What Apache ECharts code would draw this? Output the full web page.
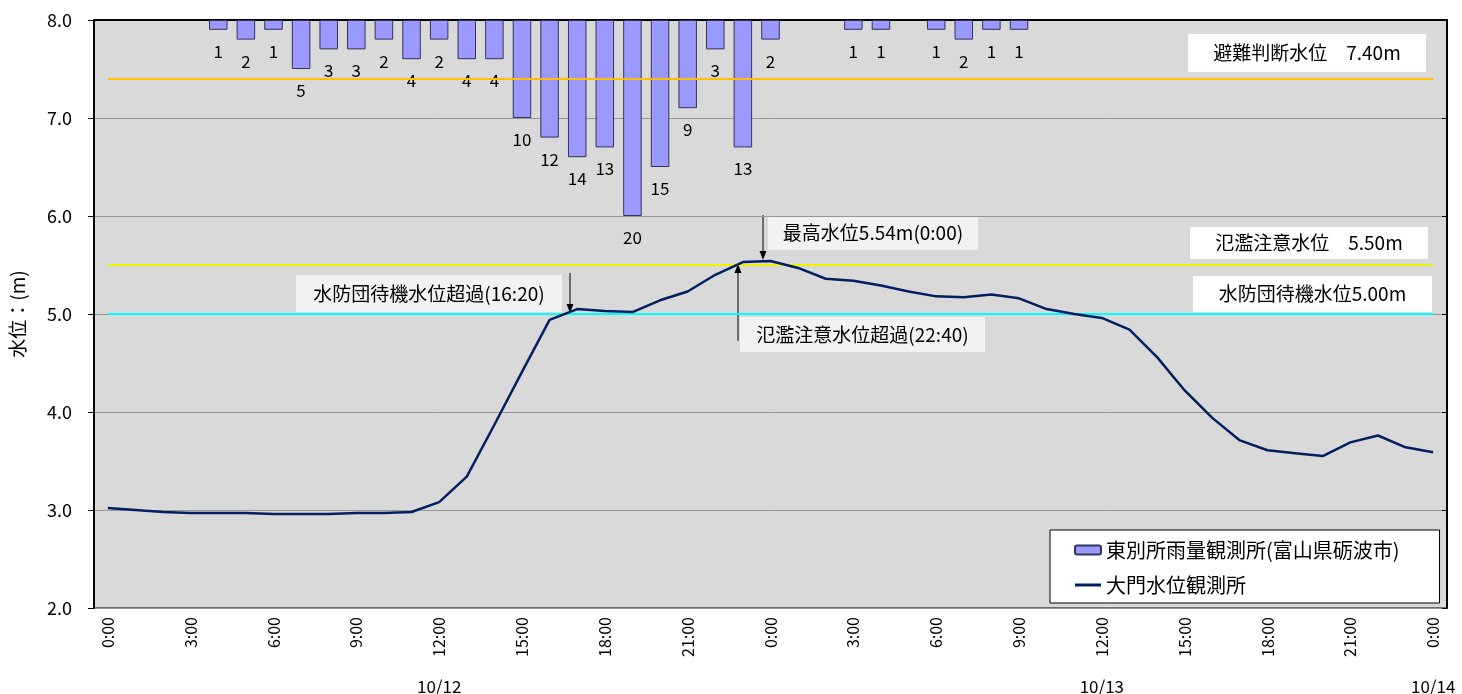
<!DOCTYPE html>
<html>
<head>
<meta charset="utf-8">
<script src="https://cdn.jsdelivr.net/npm/echarts@6/dist/echarts.min.js"></script>
<style>
  html, body { margin: 0; padding: 0; background: #fff; }
  #chart { width: 1462px; height: 694px; }
</style>
</head>
<body>
<div id="chart"></div>
<script>
// hourly categories 10/12 0:00 -> 10/14 0:00
let times = ['0:00','1:00','2:00','3:00','4:00','5:00','6:00','7:00','8:00','9:00','10:00','11:00',
    '12:00','13:00','14:00','15:00','16:00','17:00','18:00','19:00','20:00','21:00','22:00','23:00',
    '0:00','1:00','2:00','3:00','4:00','5:00','6:00','7:00','8:00','9:00','10:00','11:00',
    '12:00','13:00','14:00','15:00','16:00','17:00','18:00','19:00','20:00','21:00','22:00','23:00',
    '0:00'];

// date labels under the time axis (index -> text)
let dateLabels = { 12: '10/12', 36: '10/13', 48: '10/14' };

// 東別所 hourly rainfall (mm)
let rain = [null, null, null, null, 1, 2, 1, 5, 3, 3, 2, 4,
    2, 4, 4, 10, 12, 14, 13, 20, 15, 9, 3, 13,
    2, null, null, 1, 1, null, 1, 2, 1, 1, null, null,
    null, null, null, null, null, null, null, null, null, null, null, null,
    null];

// 大門 water level (m)
let level = [3.02, 3.00, 2.98, 2.97, 2.97, 2.97, 2.96, 2.96, 2.96, 2.97, 2.97, 2.98,
    3.08, 3.34, 3.87, 4.41, 4.94, 5.05, 5.03, 5.02, 5.14, 5.23, 5.40, 5.53,
    5.54, 5.47, 5.36, 5.34, 5.29, 5.23, 5.18, 5.17, 5.20, 5.16, 5.05, 5.00,
    4.96, 4.84, 4.56, 4.22, 3.94, 3.71, 3.61, 3.58, 3.55, 3.69, 3.76, 3.64,
    3.59];

// threshold levels
let thresholds = [
    { name: '避難判断水位', value: 7.40, color: '#FFC000' },
    { name: '氾濫注意水位', value: 5.50, color: '#F2F200' },
    { name: '水防団待機水位', value: 5.00, color: '#00FFFF' }
];

let font = '"Noto Sans CJK JP", "Noto Sans", sans-serif';
let chart = echarts.init(document.getElementById('chart'));

// small helper: text box for the annotations
function textBox(x, y, w, h, text, bg) {
    return {
        type: 'group',
        children: [{
            type: 'rect',
            shape: { x: x, y: y, width: w, height: h },
            style: { fill: bg }
        }, {
            type: 'text',
            x: x + w / 2,
            y: y + h / 2,
            style: {
                text: text,
                fill: '#000',
                font: '19px ' + font,
                align: 'center',
                verticalAlign: 'middle'
            }
        }]
    };
}

// vertical arrow, tip at y2
function arrow(x, y1, y2) {
    let dir = y2 > y1 ? 1 : -1;
    return {
        type: 'group',
        children: [{
            type: 'polyline',
            shape: { points: [[x, y1], [x, y2 - dir * 6]] },
            style: { stroke: '#000', lineWidth: 1 }
        }, {
            type: 'polygon',
            shape: { points: [[x, y2], [x - 3.5, y2 - dir * 9], [x + 3.5, y2 - dir * 9]] },
            style: { fill: '#000' }
        }]
    };
}

let option = {
    animation: false,
    textStyle: { fontFamily: font },
    grid: {
        left: 94,
        right: 15,
        top: 20,
        bottom: 86,
        outerBoundsMode: 'none',
        show: true,
        backgroundColor: '#D9D9D9',
        borderColor: '#000',
        borderWidth: 1
    },
    legend: {
        orient: 'vertical',
        left: 1050,
        top: 530,
        padding: [10, 40, 8, 24],
        itemGap: 15,
        itemWidth: 26,
        itemHeight: 9,
        backgroundColor: '#fff',
        borderColor: '#000',
        borderWidth: 1,
        textStyle: { fontSize: 20, color: '#000', fontFamily: font },
        data: [
            { name: '東別所雨量観測所(富山県砺波市)' },
            { name: '大門水位観測所', icon: 'path://M0,0H26V3H0Z' }
        ]
    },
    xAxis: [{
        type: 'category',
        data: times,
        boundaryGap: true,
        axisLine: { lineStyle: { color: '#000', width: 2 } },
        axisTick: { show: false },
        axisLabel: {
            interval: 2,
            rotate: 90,
            margin: 9,
            fontSize: 16,
            color: '#000'
        }
    }, {
        type: 'category',
        data: times,
        position: 'bottom',
        offset: 62,
        axisLine: { show: false },
        axisTick: { show: false },
        axisLabel: {
            interval: 0,
            fontSize: 17,
            color: '#000',
            formatter: (v, i) => dateLabels[i] || ''
        }
    }],
    yAxis: [{
        type: 'value',
        min: 2,
        max: 8,
        interval: 1,
        name: '水位：(m)',
        nameLocation: 'middle',
        nameGap: 67,
        nameRotate: 90,
        nameTextStyle: { fontSize: 19, color: '#000' },
        axisLine: { show: true, lineStyle: { color: '#000', width: 2 } },
        axisTick: { show: true, length: 6, lineStyle: { color: '#000' } },
        axisLabel: {
            margin: 22,
            fontSize: 18,
            color: '#000',
            formatter: v => v.toFixed(1)
        },
        splitLine: { lineStyle: { color: '#969696', width: 1 } }
    }, {
        type: 'value',
        min: 0,
        max: 60,
        interval: 10,
        inverse: true,
        position: 'right',
        axisLine: { show: true, lineStyle: { color: '#000', width: 2 } },
        axisTick: { show: true, inside: true, length: 5, lineStyle: { color: '#000' } },
        axisLabel: { show: false },
        splitLine: { show: false }
    }],
    series: [{
        name: '東別所雨量観測所(富山県砺波市)',
        type: 'bar',
        xAxisIndex: 0,
        yAxisIndex: 1,
        data: rain,
        barCategoryGap: '33%',
        itemStyle: {
            color: '#9999FF',
            borderColor: '#333355',
            borderWidth: 1
        },
        label: {
            show: true,
            position: 'bottom',
            distance: 13,
            fontSize: 17,
            color: '#000'
        }
    }, {
        name: '大門水位観測所',
        type: 'line',
        xAxisIndex: 0,
        yAxisIndex: 0,
        data: level,
        symbol: 'none',
        lineStyle: { color: '#002060', width: 2.5 },
        itemStyle: { color: '#002060' },
        z: 5,
        markLine: {
            silent: true,
            symbol: 'none',
            label: { show: false },
            data: thresholds.map(t => [
                { coord: [0, t.value], lineStyle: { color: t.color, width: 2, type: 'solid' } },
                { coord: [times.length - 1, t.value] }
            ])
        }
    }],
    graphic: [
        textBox(1188, 34, 238, 38, '避難判断水位　7.40m', '#FFFFFF'),
        textBox(1190, 227, 238, 32, '氾濫注意水位　5.50m', '#FFFFFF'),
        textBox(1193, 276, 239, 36, '水防団待機水位5.00m', '#FFFFFF'),
        textBox(296, 275, 266, 37, '水防団待機水位超過(16:20)', '#F2F2F2'),
        textBox(768, 216, 210, 34, '最高水位5.54m(0:00)', '#F2F2F2'),
        textBox(740, 317, 245, 35, '氾濫注意水位超過(22:40)', '#F2F2F2'),
        arrow(570, 273, 313),
        arrow(763, 215, 260),
        arrow(738, 341, 264)
    ]
};

chart.setOption(option);
</script>
</body>
</html>
